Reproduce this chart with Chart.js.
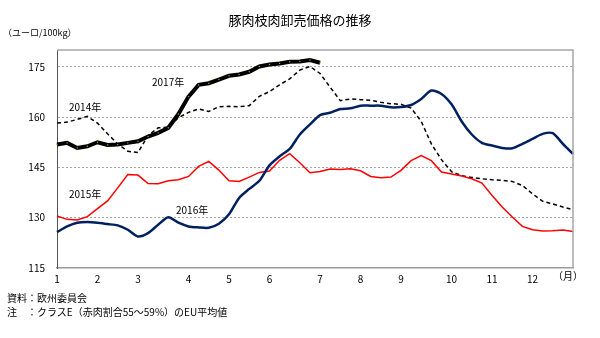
<!DOCTYPE html>
<html><head><meta charset="utf-8">
<script src="https://cdn.jsdelivr.net/npm/chart.js@4/dist/chart.umd.min.js"></script>
<style>
html,body{margin:0;padding:0;background:#fff;}
#wrap{position:relative;width:600px;height:338px;font-family:"Noto Sans CJK JP","Noto Sans",sans-serif;color:#000;}
#wrap canvas{position:absolute;left:0;top:0;}
.t{position:absolute;white-space:nowrap;line-height:12px;font-size:10px;}
</style></head>
<body>
<div id="wrap">
<canvas id="c" width="600" height="338"></canvas>
<div class="t" style="left:0;width:600px;text-align:center;top:12px;font-size:13px;line-height:16px;">豚肉枝肉卸売価格の推移</div>
<div class="t" style="left:3px;top:27px;font-size:9px;">（ユーロ/100kg）</div>
<div class="t" style="left:152px;top:76px;">2017年</div>
<div class="t" style="left:69px;top:101px;">2014年</div>
<div class="t" style="left:69px;top:188px;">2015年</div>
<div class="t" style="left:176px;top:204px;">2016年</div>
<div class="t" style="left:553px;top:270px;">（月）</div>
<div class="t" style="left:7px;top:292px;">資料：欧州委員会</div>
<div class="t" style="left:7px;top:306px;">注　：クラスE（赤肉割合55～59%）のEU平均値</div>
</div>
<script>
// Weekly series (52 weeks), EUR/100kg
const monthLabels = ['1','2','3','4','5','6','7','8','9','10','11','12'];
const monthStartWeek = [0,4,8,13,17,21,26,30,34,39,43,47];
const yTicks = [115,130,145,160,175];
const seriesNames = ['2014年','2015年','2016年','2017年'];

const y2014 = [158.2,158.5,159.3,160.2,158.2,155.0,152.0,149.8,149.4,154.5,156.8,157.0,159.8,161.4,162.4,161.7,163.1,163.2,163.1,163.4,166.2,167.6,169.6,171.4,174.0,175.1,173.0,168.9,164.9,165.4,165.2,165.0,164.4,164.0,163.8,162.7,158.7,152.0,147.3,143.7,142.5,142.0,141.6,141.3,141.1,140.8,139.6,137.1,134.9,134.1,133.2,132.4];
const y2015 = [130.5,129.5,129.3,130.3,132.7,135.0,138.9,142.9,142.7,140.2,140.1,141.0,141.3,142.3,145.3,146.8,144.2,141.0,140.8,142.1,143.5,143.9,147.1,149.1,146.4,143.4,143.8,144.5,144.4,144.6,144.0,142.3,141.9,142.1,144.1,147.0,148.5,147.0,143.6,143.0,142.4,141.6,140.3,136.6,133.2,130.2,127.4,126.4,126.0,126.1,126.3,125.9];
const y2016 = [125.7,127.4,128.5,128.7,128.5,128.1,127.7,126.4,124.4,125.4,127.9,130.1,128.5,127.4,127.1,127.0,128.2,131.0,135.9,138.6,141.0,145.6,148.3,150.5,154.8,157.8,160.6,161.3,162.4,162.6,163.4,163.4,163.4,162.9,163.0,163.6,165.4,167.9,166.9,163.8,158.7,154.8,152.3,151.5,150.8,150.7,152.0,153.5,155.0,155.2,152.0,149.0];
const y2017 = [151.8,152.3,150.8,151.3,152.5,151.7,151.8,152.3,152.8,154.2,155.3,156.8,160.9,166.1,169.6,170.1,171.2,172.3,172.7,173.5,175.1,175.7,176.0,176.5,176.6,177.0,176.2];

const labels = y2014.map((_, i) => {
  const k = monthStartWeek.indexOf(i);
  return k >= 0 ? monthLabels[k] : '';
});

const framePlugin = {
  id: 'frame',
  afterDraw(chart) {
    const a = chart.chartArea, ctx = chart.ctx;
    ctx.save();
    ctx.strokeStyle = '#a6a6a6';
    ctx.lineWidth = 1.5;
    ctx.beginPath();
    ctx.moveTo(a.left, a.top);
    ctx.lineTo(a.right, a.top);
    ctx.lineTo(a.right, a.bottom);
    ctx.stroke();
    ctx.restore();
  }
};

new Chart(document.getElementById('c'), {
  type: 'line',
  data: {
    labels,
    datasets: [
      {label: seriesNames[0], data: y2014, borderColor: '#000', borderWidth: 1.5, borderDash: [4,3], pointRadius: 0, tension: 0, order: 3},
      {label: seriesNames[1], data: y2015, borderColor: '#ff0000', borderWidth: 1.5, pointRadius: 0, tension: 0, order: 2},
      {label: seriesNames[2], data: y2016, borderColor: '#002060', borderWidth: 2.5, pointRadius: 0, tension: 0.25, order: 1},
      {label: seriesNames[3], data: y2017, borderColor: '#000', borderWidth: 4, pointRadius: 0.7, pointBackgroundColor: '#b8a400', pointBorderWidth: 0, tension: 0, order: 0}
    ]
  },
  options: {
    responsive: false,
    animation: false,
    layout: {padding: {left: 0, right: 27, top: 50, bottom: 0}},
    plugins: {legend: {display: false}, title: {display: false}, tooltip: {enabled: false}},
    scales: {
      x: {
        type: 'category',
        offset: false,
        grid: {display: false, drawTicks: false},
        border: {display: true, color: '#9a9a9a', width: 1.5},
        ticks: {autoSkip: false, maxRotation: 0, minRotation: 0, padding: 5, color: '#000', font: {family: '"Noto Sans CJK JP", sans-serif', size: 10}},
        afterFit(s) { s.height = 70; }
      },
      y: {
        min: 115, max: 180,
        afterBuildTicks(s) { s.ticks = yTicks.map(v => ({value: v})); },
        grid: {
          drawTicks: false,
          color: ctx => (ctx.tick && ctx.tick.value === 115) ? 'rgba(0,0,0,0)' : '#a8a8a8',
          lineWidth: 1
        },
        border: {display: true, color: '#555', width: 1, dash: [2,2]},
        ticks: {padding: 12, color: '#000', font: {family: '"Noto Sans CJK JP", sans-serif', size: 10}},
        afterFit(s) { s.width = 57; }
      }
    }
  },
  plugins: [framePlugin]
});
</script>
</body></html>
